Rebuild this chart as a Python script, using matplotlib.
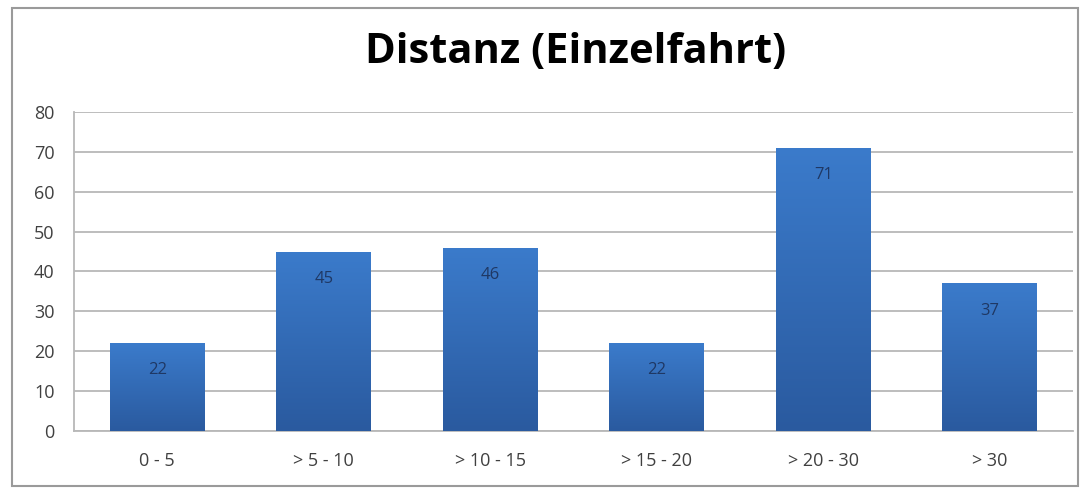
import numpy as np
import matplotlib
matplotlib.use('Agg')
import matplotlib.pyplot as plt
from matplotlib.patches import Rectangle
from matplotlib.colors import LinearSegmentedColormap

# data
CATEGORIES = ['0 - 5', '> 5 - 10', '> 10 - 15', '> 15 - 20', '> 20 - 30', '> 30']
VALUES     = [22, 45, 46, 22, 71, 37]
Y_TICKS    = [0, 10, 20, 30, 40, 50, 60, 70, 80]
TITLE      = 'Distanz (Einzelfahrt)'

BAR_W     = 0.57
GRID_CLR  = '#b8b8b8'
TEXT_CLR  = '#404040'
LABEL_CLR = '#1f3864'
FONT      = 'Open Sans'

fig = plt.figure(figsize=(10.82, 4.88), dpi=100)
ax = fig.add_axes([0.0684, 0.1168, 0.9233, 0.6537])

x = np.arange(len(CATEGORIES))
bars = ax.bar(x, VALUES, width=BAR_W, color='#2f68b5', edgecolor='none', zorder=2)

# vertical gradient fill, light on top and dark at the bottom
cmap = LinearSegmentedColormap.from_list('bar', ['#2a5a9f', '#3b7bcb'])
grad = np.linspace(0, 1, 256).reshape(-1, 1)
for bar in bars:
    x0, y0 = bar.get_x(), bar.get_y()
    w, h = bar.get_width(), bar.get_height()
    im = ax.imshow(grad, cmap=cmap, origin='lower', aspect='auto',
                   extent=(x0, x0 + w, y0, y0 + h), zorder=3)
    im.set_clip_path(bar)

for xi, v in zip(x, VALUES):
    ax.text(xi, v - 6.8, str(v), ha='center', va='center', fontsize=12,
            color=LABEL_CLR, zorder=4, family=FONT)

ax.set_xlim(-0.5, len(CATEGORIES) - 0.5)
ax.set_ylim(0, 80)
ax.set_yticks(Y_TICKS)
ax.set_xticks(x)
ax.set_xticklabels(CATEGORIES)
ax.yaxis.grid(True, color=GRID_CLR, linewidth=1.3, zorder=0)
ax.set_axisbelow(True)
for side in ('top', 'right'):
    ax.spines[side].set_visible(False)
for side in ('left', 'bottom'):
    ax.spines[side].set_color(GRID_CLR)
    ax.spines[side].set_linewidth(1.3)
ax.tick_params(axis='both', length=0, labelsize=13, colors=TEXT_CLR)
ax.tick_params(axis='x', pad=15)
ax.tick_params(axis='y', pad=14)
for lbl in ax.get_xticklabels() + ax.get_yticklabels():
    lbl.set_family(FONT)

fig.text(0.532, 0.892, TITLE, ha='center', va='center', fontsize=30,
         fontweight='bold', family=FONT, color='black')

# outer chart frame
fig.patches.append(Rectangle((12 / 1082, 2 / 488), 1066 / 1082, 478 / 488,
                             transform=fig.transFigure, fill=False,
                             edgecolor='#9a9a9a', linewidth=1.5))

fig.savefig('out.png', dpi=100)
